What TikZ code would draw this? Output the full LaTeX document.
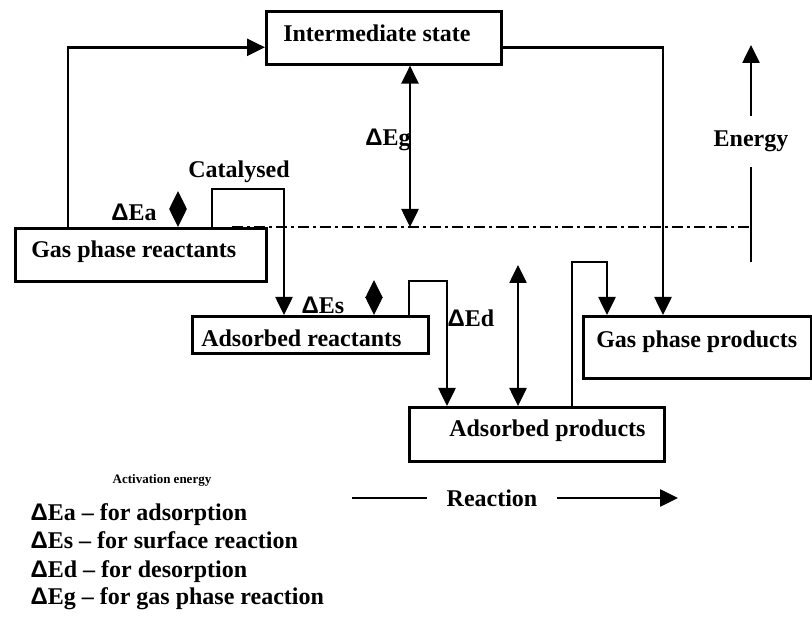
\documentclass[tikz,border=0pt]{standalone}
\usepackage{fontspec}
\setmainfont{Liberation Serif}
\setsansfont{Liberation Sans}
\usetikzlibrary{
    arrows.meta,
    positioning,
    calc
}

\newcommand{\dlt}{{\sffamily\bfseries Δ}}

\begin{document}
\begin{tikzpicture}[
        x=1pt, y=-1pt,
        font=\fontsize{24}{29}\selectfont\bfseries,
        box/.style={
            rectangle,
            draw,
            line width=2.6pt,
            anchor=north west,
            align=flush left,
            inner sep=0pt,
            text height=17pt
        },
        line/.style={
            -{Triangle[length=18pt,width=17pt]},
            line width=2.6pt
        },
        dblline/.style={
            {Triangle[length=18pt,width=17pt]}-{Triangle[length=18pt,width=17pt]},
            line width=2.6pt
        },
        shortarr/.style={
            {Triangle[length=18pt,width=17pt]}-{Triangle[length=18pt,width=17pt]},
            line width=2.6pt
        },
        dashdot/.style={
            line width=2.6pt,
            dash pattern=on 11pt off 4pt on 3pt off 4pt
        }
    ]
    \useasboundingbox (0,0) rectangle (812,617);

    % energy levels
    \node[box, minimum width=235pt, minimum height=53pt, text width=235pt, text depth=10pt]
        (inter) at (265,10) {\hspace*{17pt}Intermediate state};
    \node[box, minimum width=251pt, minimum height=53pt, text width=251pt, text depth=12pt]
        (gasR) at (14,227) {\hspace*{16pt}Gas phase reactants};
    \node[box, minimum width=236pt, minimum height=37pt, text width=236pt, text height=28pt, text depth=5pt]
        (adsR) at (191,315) {\hspace*{9pt}Adsorbed reactants};
    \node[box, minimum width=228pt, minimum height=62pt, text width=228pt, text depth=17pt]
        (gasP) at (582,315) {\hspace*{13pt}Gas phase products};
    \node[box, minimum width=255pt, minimum height=54pt, text width=255pt, text depth=13pt]
        (adsP) at (408,406) {\hspace*{40pt}Adsorbed products};

    % reference level
    \coordinate (dl) at (232,227);
    \coordinate (dr) at (751,227);
    \draw[dashdot] (dl) -- (dr);

    % gas phase route
    \draw[line] ([xshift=54pt]gasR.north west) |- ([yshift=-9.5pt]inter.west);
    \draw[line] ([yshift=-9.5pt]inter.east) -| ([xshift=81pt]gasP.north west);

    % catalysed route
    \draw[line] ([xshift=198pt]gasR.north west) -- ++(0,-38) -| ([xshift=93pt]adsR.north west);
    \draw[line] ([xshift=218pt]adsR.north west) -- ++(0,-34) -| ([xshift=39pt]adsP.north west);
    \draw[line] ([xshift=164pt]adsP.north west) -- ++(0,-144) -| ([xshift=25pt]gasP.north west);

    % activation energies
    \coordinate (g1) at ([xshift=145pt]inter.south west);
    \draw[dblline] (g1) -- (g1 |- dl);
    \draw[shortarr] ([xshift=164pt]gasR.north west) -- ++(0,-36);
    \draw[shortarr] ([xshift=183pt]adsR.north west) -- ++(0,-35);
    \draw[dblline] ([xshift=110pt]adsP.north west) -- ++(0,-141);

    \node (cat) at (239,172) {Catalysed};
    \node (dEa) at (134,212) {\dlt Ea};
    \node (dEs) at (323,305) {\dlt Es};
    \node (dEd) at (471,318) {\dlt Ed};
    \node (dEg) at (388,140) {\dlt Eg};

    % axes
    \coordinate (ebot) at (751,262);
    \coordinate (etop) at (751,45);
    \draw[line] (ebot) -- node[pos=0.555, fill=white, inner xsep=2pt, minimum height=51pt] (energy) {Energy} (etop);

    \node[minimum width=130pt] (reaction) at (492,498) {Reaction};
    \coordinate (rl) at (352,498);
    \coordinate (rr) at (678,498);
    \draw[line width=2.6pt] (rl) -- (reaction);
    \draw[line] (reaction) -- (rr);

    % legend
    \node[font=\fontsize{13}{16}\selectfont\bfseries] (act) at (162,480) {Activation energy};
    \node[anchor=base west] (lga) at (27,521) {\dlt Ea – for adsorption};
    \node[anchor=base west] (lgs) at (27,549) {\dlt Es – for surface reaction};
    \node[anchor=base west] (lgd) at (27,577) {\dlt Ed – for desorption};
    \node[anchor=base west] (lgg) at (27,605) {\dlt Eg – for gas phase reaction};

\end{tikzpicture}
\end{document}
